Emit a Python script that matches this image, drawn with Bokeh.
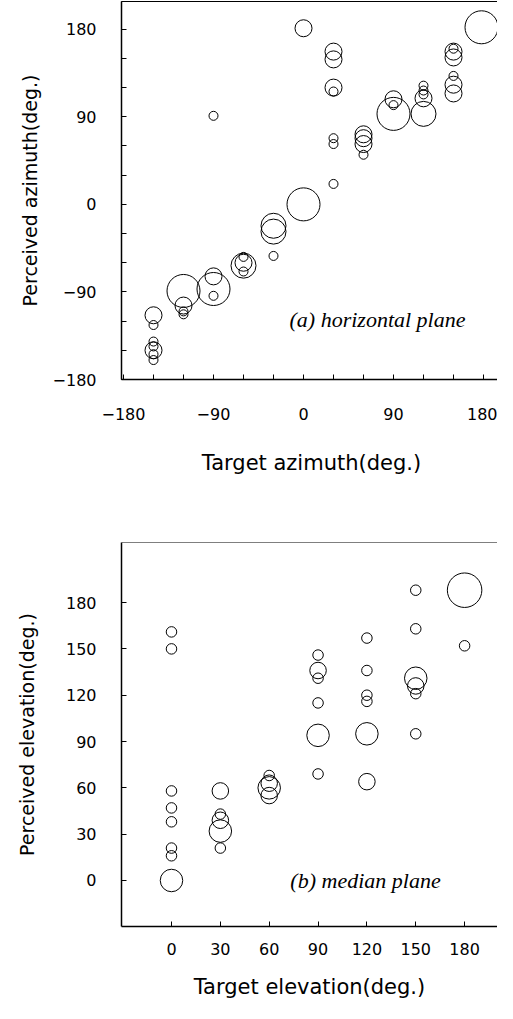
from bokeh.plotting import figure
from bokeh.layouts import column
from bokeh.models import Range1d, FixedTicker, Label, Span, ColumnDataSource
from bokeh.embed import file_html
from bokeh.resources import INLINE

# ---------------- data: (a) horizontal plane ----------------
az_target = [-150, -150, -150, -150, -150, -150, -150,
             -120, -120, -120, -120,
             -90, -90, -90, -90,
             -60, -60, -60, -60,
             -30, -30, -30,
             0, 0,
             30, 30, 30, 30, 30, 30, 30,
             60, 60, 60, 60,
             90, 90, 90,
             120, 120, 120, 120, 120,
             150, 150, 150, 150, 150, 150,
             178]
az_perceived = [-114, -124, -141, -146, -150, -154, -160,
                -89, -104, -110, -113,
                -74, -87, -94, 91,
                -54, -60, -63, -69,
                -22, -28, -53,
                0, 181,
                157, 149, 120, 116, 68, 62, 21,
                72, 68, 62, 51,
                108, 102, 93,
                122, 117, 113, 109, 93,
                160, 157, 151, 132, 123, 114,
                182]
az_count = [2, 1, 1, 1, 2, 1, 1,
            4, 2, 1, 1,
            2, 4, 1, 1,
            1, 2, 3, 1,
            3, 3, 1,
            4, 2,
            2, 2, 2, 1, 1, 1, 1,
            2, 2, 2, 1,
            2, 1, 4,
            1, 1, 1, 2, 3,
            1, 2, 2, 1, 2, 2,
            4]

az_ticks = [-180, -150, -120, -90, -60, -30, 0, 30, 60, 90, 120, 150, 180]
az_labels = {-180: "\u2212180", -90: "\u221290", 0: "0", 90: "90", 180: "180"}

# ---------------- data: (b) median plane ----------------
el_target = [0, 0, 0, 0, 0, 0, 0, 0,
             30, 30, 30, 30, 30,
             60, 60, 60, 60,
             90, 90, 90, 90, 90, 90,
             120, 120, 120, 120, 120, 120,
             150, 150, 150, 150, 150, 150,
             180, 180]
el_perceived = [161, 150, 58, 47, 38, 21, 16, 0,
                58, 43, 39, 32, 21,
                68, 63, 60, 55,
                146, 136, 131, 115, 94, 69,
                157, 136, 120, 116, 95, 64,
                188, 163, 131, 126, 121, 95,
                188, 152]
el_count = [1, 1, 1, 1, 1, 1, 1, 3,
            2, 1, 2, 3, 1,
            1, 2, 3, 2,
            1, 2, 1, 1, 3, 1,
            1, 1, 1, 1, 3, 2,
            1, 1, 3, 2, 1, 1,
            5, 1]

el_ticks = [0, 30, 60, 90, 120, 150, 180]
el_labels = {t: str(t) for t in el_ticks}

TICK_FONT = "DejaVu Sans"
TITLE_FONT = "DejaVu Sans"


def style_axes(p, xticks, xlabels, yticks, ylabels, xstand, xlab_stand, ystand, ylab_stand):
    p.grid.visible = False
    for ax in (p.xaxis[0], p.yaxis[0]):
        ax.major_tick_in = 5
        ax.major_tick_out = 0
        ax.minor_tick_line_color = None
        ax.axis_line_color = "black"
        ax.axis_line_width = 1.5
        ax.major_tick_line_color = "black"
        ax.major_tick_line_width = 1
        ax.major_label_text_font = TICK_FONT
        ax.major_label_text_font_size = "16px"
        ax.major_label_text_color = "black"
        ax.axis_label_text_font = TITLE_FONT
        ax.axis_label_text_font_style = "normal"
        ax.axis_label_text_color = "black"
    p.xaxis[0].axis_label_text_font_size = "21px"
    p.yaxis[0].axis_label_text_font_size = "19px"
    p.xaxis[0].ticker = FixedTicker(ticks=xticks)
    p.xaxis[0].major_label_overrides = {t: xlabels.get(t, "") for t in xticks}
    p.yaxis[0].ticker = FixedTicker(ticks=yticks)
    p.yaxis[0].major_label_overrides = {t: ylabels.get(t, "") for t in yticks}
    p.xaxis[0].major_label_standoff = xstand
    p.xaxis[0].axis_label_standoff = xlab_stand
    p.yaxis[0].major_label_standoff = ystand
    p.yaxis[0].axis_label_standoff = ylab_stand


# ---------------- top figure ----------------
p1 = figure(frame_width=380, frame_height=378,
            min_border_left=117, min_border_right=0,
            min_border_top=1, min_border_bottom=100,
            x_range=Range1d(-182, 198), y_range=Range1d(-180, 208.5),
            output_backend="svg", toolbar_location=None,
            x_axis_label="Target azimuth(deg.)",
            y_axis_label="Perceived azimuth(deg.)")
p1.outline_line_color = "black"
p1.outline_line_width = 1
p1.outline_line_alpha = 1
style_axes(p1, az_ticks, az_labels, az_ticks, az_labels, 28, 28, 25, 9)

src1 = ColumnDataSource(dict(x=az_target, y=az_perceived,
                             d=[1 + 8 * n for n in az_count]))
p1.scatter("x", "y", size="d", source=src1, marker="circle",
           fill_color=None, line_color="black", line_width=1)
p1.add_layout(Label(x=-14, y=-118, text="(a) horizontal plane",
                    text_font="Liberation Serif", text_font_style="italic",
                    text_font_size="22px", text_baseline="middle",
                    text_color="black"))

# ---------------- bottom figure ----------------
Y2_END = 218.9
p2 = figure(frame_width=376, frame_height=384,
            min_border_left=121, min_border_right=0,
            min_border_top=63, min_border_bottom=77,
            x_range=Range1d(-30.7, 200.2), y_range=Range1d(-29.8, Y2_END),
            output_backend="svg", toolbar_location=None,
            x_axis_label="Target elevation(deg.)",
            y_axis_label="Perceived elevation(deg.)")
p2.outline_line_color = None
style_axes(p2, el_ticks, el_labels, el_ticks, el_labels, 16, 17, 25, 25)
p2.add_layout(Span(location=Y2_END, dimension="width",
                   line_color="black", line_width=1))

src2 = ColumnDataSource(dict(x=el_target, y=el_perceived,
                             d=[4.5 + 6 * n for n in el_count]))
p2.scatter("x", "y", size="d", source=src2, marker="circle",
           fill_color=None, line_color="black", line_width=1)
p2.add_layout(Label(x=73, y=0, text="(b) median plane",
                    text_font="Liberation Serif", text_font_style="italic",
                    text_font_size="22px", text_baseline="middle",
                    text_color="black"))

layout = column(p1, p2)
open("out.html", "w").write(file_html(layout, INLINE))
